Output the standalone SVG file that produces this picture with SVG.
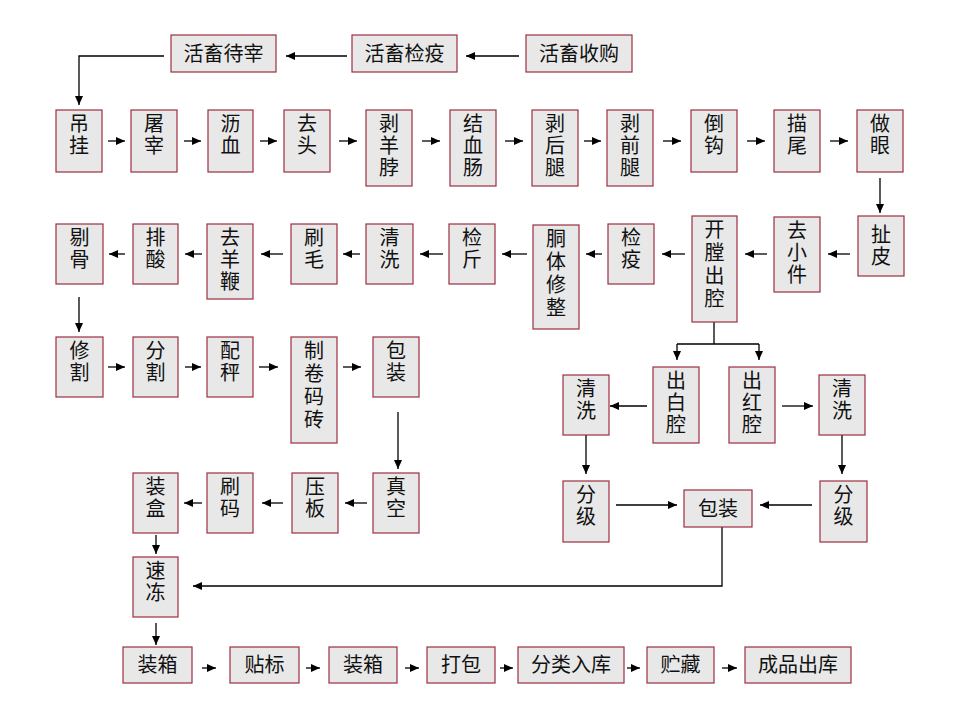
<svg xmlns="http://www.w3.org/2000/svg" width="960" height="720" viewBox="0 0 960 720">
<style>
.box{fill:#e8e8e8;stroke:#9c2f3f;stroke-width:1.2}
.t{font-family:"Noto Sans CJK SC","Noto Sans",sans-serif;font-size:20px;fill:#111;text-anchor:middle}
.v{font-family:"Noto Sans CJK SC","Noto Sans",sans-serif;font-size:20px;fill:#111;writing-mode:vertical-rl;text-anchor:start;letter-spacing:2px}
.v4{letter-spacing:3px}
.c{stroke:#000;stroke-width:1.3;fill:none}
.a{marker-end:url(#ah)}
</style>
<defs>
<marker id="ah" markerUnits="userSpaceOnUse" markerWidth="9" markerHeight="8" refX="9" refY="4" orient="auto"><path d="M0,0 L9,4 L0,8 z" fill="#000"/></marker>
</defs>
<rect width="960" height="720" fill="#fff"/>
<g id="connectors">
<path class="c a" d="M519,56 H466"/>
<path class="c a" d="M347,56 H286"/>
<path class="c a" d="M164,56 H79 V105"/>
<path class="c a" d="M108,141 H125"/>
<path class="c a" d="M184,141 H201"/>
<path class="c a" d="M260,141 H277"/>
<path class="c a" d="M339,141 H357"/>
<path class="c a" d="M422,141 H440"/>
<path class="c a" d="M505,141 H523"/>
<path class="c a" d="M584,141 H601"/>
<path class="c a" d="M663,141 H681"/>
<path class="c a" d="M747,141 H765"/>
<path class="c a" d="M830,141 H848"/>
<path class="c a" d="M880,178 V213"/>
<path class="c a" d="M850,254 H828"/>
<path class="c a" d="M767,254 H745"/>
<path class="c a" d="M685,254 H662"/>
<path class="c a" d="M602,254 H586"/>
<path class="c a" d="M527,254 H502"/>
<path class="c a" d="M443,254 H420"/>
<path class="c a" d="M360,254 H343"/>
<path class="c a" d="M283,254 H261"/>
<path class="c a" d="M202,254 H185"/>
<path class="c a" d="M125,254 H109"/>
<path class="c a" d="M79,297 V332"/>
<path class="c a" d="M108,367 H125"/>
<path class="c a" d="M185,367 H201"/>
<path class="c a" d="M259,367 H278"/>
<path class="c a" d="M343,367 H361"/>
<path class="c a" d="M398,412 V469"/>
<path class="c a" d="M367,503 H345"/>
<path class="c a" d="M283,503 H262"/>
<path class="c a" d="M202,503 H184"/>
<path class="c a" d="M156,535 V554"/>
<path class="c a" d="M156,623 V645"/>
<path class="c" d="M714,322 V344 M677,344 H759"/>
<path class="c a" d="M677,344 V360"/>
<path class="c a" d="M759,344 V360"/>
<path class="c a" d="M647,406 H610"/>
<path class="c a" d="M782,406 H813"/>
<path class="c a" d="M586,435 V474"/>
<path class="c a" d="M842,435 V474"/>
<path class="c a" d="M616,505 H677"/>
<path class="c a" d="M812,505 H760"/>
<path class="c a" d="M722,527 V586 H193"/>
<path class="c a" d="M202,668 H216"/>
<path class="c a" d="M306,668 H320"/>
<path class="c a" d="M405,668 H419"/>
<path class="c a" d="M500,668 H513"/>
<path class="c a" d="M627,668 H640"/>
<path class="c a" d="M722,668 H737"/>
</g>
<g id="n_wait"><rect class="box" x="171" y="35" width="105" height="37"/><text class="t" x="223.5" y="61">活畜待宰</text></g>
<g id="n_insp"><rect class="box" x="352" y="35" width="105" height="37"/><text class="t" x="404.5" y="61">活畜检疫</text></g>
<g id="n_buy"><rect class="box" x="526" y="35" width="106" height="37"/><text class="t" x="579" y="61">活畜收购</text></g>

<g id="n_hang"><rect class="box" x="56" y="110" width="46" height="62"/><text class="v" x="79" y="113">吊挂</text></g>
<g id="n_slaughter"><rect class="box" x="131" y="110" width="46" height="62"/><text class="v" x="154" y="113">屠宰</text></g>
<g id="n_bleed"><rect class="box" x="208" y="110" width="45" height="62"/><text class="v" x="230.5" y="113">沥血</text></g>
<g id="n_head"><rect class="box" x="284" y="110" width="46" height="62"/><text class="v" x="307" y="113">去头</text></g>
<g id="n_neck"><rect class="box" x="366" y="110" width="46" height="76"/><text class="v" x="389" y="113">剥羊脖</text></g>
<g id="n_gut"><rect class="box" x="450" y="110" width="46" height="76"/><text class="v" x="473" y="113">结血肠</text></g>
<g id="n_hind"><rect class="box" x="532" y="110" width="46" height="76"/><text class="v" x="555" y="113">剥后腿</text></g>
<g id="n_fore"><rect class="box" x="607" y="110" width="46" height="76"/><text class="v" x="630" y="113">剥前腿</text></g>
<g id="n_hook"><rect class="box" x="691" y="110" width="46" height="62"/><text class="v" x="714" y="113">倒钩</text></g>
<g id="n_tail"><rect class="box" x="774" y="110" width="46" height="62"/><text class="v" x="797" y="113">描尾</text></g>
<g id="n_eye"><rect class="box" x="857" y="110" width="46" height="62"/><text class="v" x="880" y="113">做眼</text></g>

<g id="n_skin"><rect class="box" x="858" y="216" width="46" height="60"/><text class="v" x="881" y="224">扯皮</text></g>
<g id="n_small"><rect class="box" x="774" y="217" width="46" height="75"/><text class="v" x="797" y="220">去小件</text></g>
<g id="n_open"><rect class="box" x="692" y="216" width="45" height="106"/><text class="v v4" x="714.5" y="219">开膛出腔</text></g>
<g id="n_qc"><rect class="box" x="608" y="224" width="46" height="60"/><text class="v" x="631" y="227">检疫</text></g>
<g id="n_trim"><rect class="box" x="533" y="225" width="46" height="104"/><text class="v v4" x="556" y="228">胴体修整</text></g>
<g id="n_weigh"><rect class="box" x="449" y="224" width="46" height="60"/><text class="v" x="472" y="227">检斤</text></g>
<g id="n_wash1"><rect class="box" x="366" y="224" width="47" height="60"/><text class="v" x="389.5" y="227">清洗</text></g>
<g id="n_brush"><rect class="box" x="291" y="224" width="46" height="60"/><text class="v" x="314" y="227">刷毛</text></g>
<g id="n_pizzle"><rect class="box" x="207" y="224" width="46" height="75"/><text class="v" x="230" y="227">去羊鞭</text></g>
<g id="n_acid"><rect class="box" x="133" y="224" width="45" height="60"/><text class="v" x="155.5" y="227">排酸</text></g>
<g id="n_bone"><rect class="box" x="56" y="224" width="47" height="60"/><text class="v" x="79.5" y="227">剔骨</text></g>

<g id="n_trim2"><rect class="box" x="56" y="337" width="47" height="60"/><text class="v" x="79.5" y="340">修割</text></g>
<g id="n_cut"><rect class="box" x="133" y="337" width="45" height="60"/><text class="v" x="155.5" y="340">分割</text></g>
<g id="n_scale"><rect class="box" x="207" y="337" width="46" height="60"/><text class="v" x="230" y="340">配秤</text></g>
<g id="n_roll"><rect class="box" x="291" y="337" width="46" height="106"/><text class="v v4" x="314" y="340">制卷码砖</text></g>
<g id="n_pack1"><rect class="box" x="373" y="337" width="46" height="60"/><text class="v" x="396" y="340">包装</text></g>

<g id="n_white"><rect class="box" x="653" y="367" width="46" height="76"/><text class="v" x="676" y="370">出白腔</text></g>
<g id="n_red"><rect class="box" x="729" y="367" width="46" height="76"/><text class="v" x="752" y="370">出红腔</text></g>
<g id="n_washL"><rect class="box" x="563" y="375" width="46" height="60"/><text class="v" x="586" y="378">清洗</text></g>
<g id="n_washR"><rect class="box" x="819" y="375" width="46" height="60"/><text class="v" x="842" y="378">清洗</text></g>
<g id="n_gradeL"><rect class="box" x="563" y="481" width="46" height="61"/><text class="v" x="586" y="484">分级</text></g>
<g id="n_gradeR"><rect class="box" x="820" y="481" width="47" height="61"/><text class="v" x="843.5" y="484">分级</text></g>
<g id="n_pack2"><rect class="box" x="684" y="490" width="68" height="37"/><text class="t" x="718" y="516">包装</text></g>

<g id="n_box"><rect class="box" x="133" y="473" width="45" height="60"/><text class="v" x="155.5" y="476">装盒</text></g>
<g id="n_code"><rect class="box" x="207" y="473" width="46" height="60"/><text class="v" x="230" y="476">刷码</text></g>
<g id="n_press"><rect class="box" x="292" y="473" width="46" height="60"/><text class="v" x="315" y="476">压板</text></g>
<g id="n_vac"><rect class="box" x="373" y="473" width="46" height="60"/><text class="v" x="396" y="476">真空</text></g>
<g id="n_freeze"><rect class="box" x="133" y="557" width="45" height="60"/><text class="v" x="155.5" y="560">速冻</text></g>

<g id="n_case1"><rect class="box" x="123" y="647" width="69" height="36"/><text class="t" x="157.5" y="672">装箱</text></g>
<g id="n_label"><rect class="box" x="230" y="647" width="69" height="36"/><text class="t" x="264.5" y="672">贴标</text></g>
<g id="n_case2"><rect class="box" x="329" y="647" width="68" height="36"/><text class="t" x="363" y="672">装箱</text></g>
<g id="n_bale"><rect class="box" x="427" y="647" width="68" height="36"/><text class="t" x="461" y="672">打包</text></g>
<g id="n_store"><rect class="box" x="518" y="647" width="106" height="36"/><text class="t" x="571" y="672">分类入库</text></g>
<g id="n_keep"><rect class="box" x="647" y="647" width="67" height="36"/><text class="t" x="680.5" y="672">贮藏</text></g>
<g id="n_out"><rect class="box" x="745" y="647" width="106" height="36"/><text class="t" x="798" y="672">成品出库</text></g>
</svg>
